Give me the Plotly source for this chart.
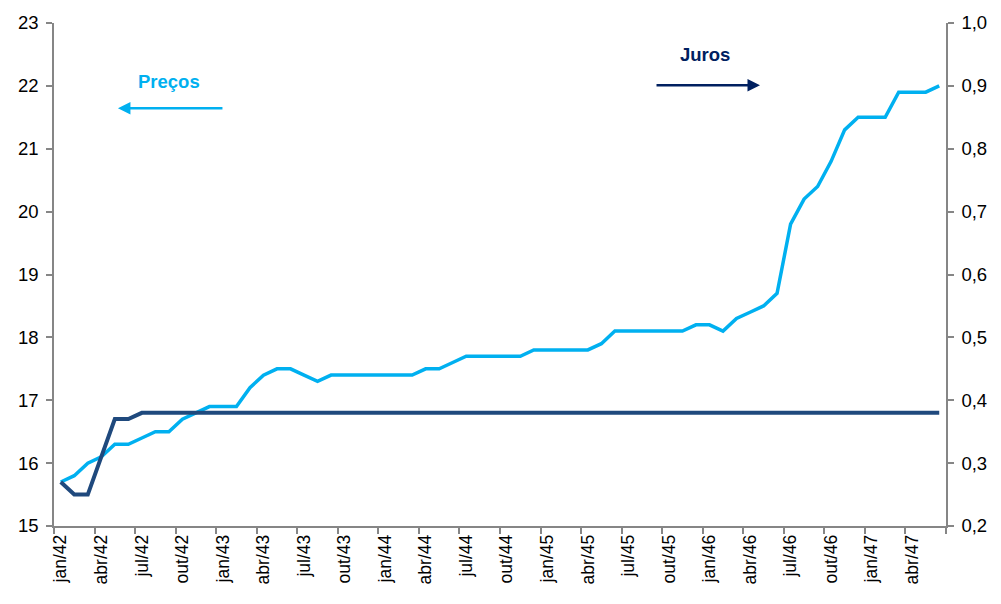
import plotly.graph_objects as go

# Monthly series, jan/1942 to jun/1947
meses_pt = ["jan", "fev", "mar", "abr", "mai", "jun", "jul", "ago", "set", "out", "nov", "dez"]
meses = [f"{meses_pt[k % 12]}/{42 + (k // 12)}" for k in range(66)]

precos = [15.7, 15.8, 16.0, 16.1, 16.3, 16.3, 16.4, 16.5, 16.5, 16.7,
          16.8, 16.9, 16.9, 16.9, 17.2, 17.4, 17.5, 17.5, 17.4, 17.3,
          17.4, 17.4, 17.4, 17.4, 17.4, 17.4, 17.4, 17.5, 17.5, 17.6,
          17.7, 17.7, 17.7, 17.7, 17.7, 17.8, 17.8, 17.8, 17.8, 17.8,
          17.9, 18.1, 18.1, 18.1, 18.1, 18.1, 18.1, 18.2, 18.2, 18.1,
          18.3, 18.4, 18.5, 18.7, 19.8, 20.2, 20.4, 20.8, 21.3, 21.5,
          21.5, 21.5, 21.9, 21.9, 21.9, 22.0]

juros = [0.27, 0.25, 0.25, 0.31, 0.37, 0.37] + [0.38] * 60

x_idx = list(range(len(meses)))
label_idx = x_idx[::3]
label_txt = [meses[i] for i in label_idx]
boundaries = [i - 0.5 for i in range(0, len(meses) + 1, 3)]

AXIS = "#868686"
LIGHT = "#00B0F0"
DARK = "#1F497D"
NAVY = "#002060"
FONT = "Liberation Sans"

fig = go.Figure()
fig.add_trace(go.Scatter(x=x_idx, y=precos, mode="lines", name="Preços",
                         line=dict(color=LIGHT, width=3.5), yaxis="y"))
fig.add_trace(go.Scatter(x=x_idx, y=juros, mode="lines", name="Juros",
                         line=dict(color=DARK, width=4), yaxis="y2"))

fig.update_layout(
    width=1001, height=604,
    margin=dict(l=54, r=55, t=18, b=78),
    paper_bgcolor="white", plot_bgcolor="white",
    showlegend=False,
    separators=", ",
    font=dict(family=FONT, color="black"),
    xaxis=dict(
        range=[-0.5, len(meses) - 0.5],
        tickmode="array", tickvals=label_idx, ticktext=label_txt,
        tickangle=-90, ticks="", tickfont=dict(size=17.5),
        showgrid=False, zeroline=False,
        showline=True, linecolor=AXIS, linewidth=1.5,
        minor=dict(tickmode="array", tickvals=boundaries, ticks="outside",
                   ticklen=6, tickcolor=AXIS, tickwidth=1.5, showgrid=False),
    ),
    yaxis=dict(
        range=[15, 23], dtick=1, tick0=15,
        ticks="outside", ticklen=6, tickcolor=AXIS, tickwidth=1.5,
        tickfont=dict(size=18.5), ticklabelstandoff=4,
        showgrid=False, zeroline=False,
        showline=True, linecolor=AXIS, linewidth=1.5,
    ),
    yaxis2=dict(
        range=[0.2, 1.0], dtick=0.1, tick0=0.2, tickformat=".1f",
        overlaying="y", side="right",
        ticks="outside", ticklen=6, tickcolor=AXIS, tickwidth=1.5,
        tickfont=dict(size=18.5), ticklabelstandoff=4,
        showgrid=False, zeroline=False,
        showline=True, linecolor=AXIS, linewidth=1.5,
    ),
)

# Series labels with direction arrows pointing to their axes
fig.add_annotation(x=0.129, y=0.884, xref="paper", yref="paper",
                   xanchor="center", yanchor="middle",
                   text="<b>Preços</b>", showarrow=False,
                   font=dict(size=18.5, color=LIGHT, family=FONT))
fig.add_annotation(x=0.0717, y=0.8307, xref="paper", yref="paper",
                   ax=106, ay=0, text="", showarrow=True,
                   arrowhead=2, arrowsize=1, arrowwidth=2.5, arrowcolor=LIGHT)
fig.add_annotation(x=0.7298, y=0.937, xref="paper", yref="paper",
                   xanchor="center", yanchor="middle",
                   text="<b>Juros</b>", showarrow=False,
                   font=dict(size=18.5, color=NAVY, family=FONT))
fig.add_annotation(x=0.7915, y=0.876, xref="paper", yref="paper",
                   ax=-105, ay=0, text="", showarrow=True,
                   arrowhead=2, arrowsize=1, arrowwidth=2.5, arrowcolor=NAVY)

fig.write_html("out.html")
